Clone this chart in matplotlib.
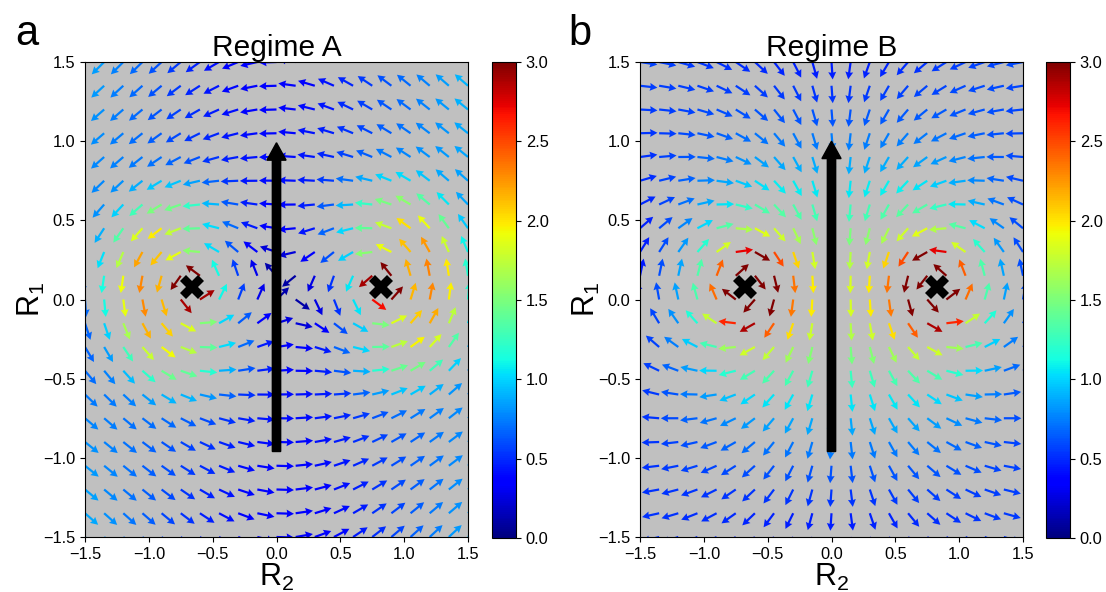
import numpy as np
import matplotlib.pyplot as plt

plt.rcParams['font.family'] = ['Liberation Sans', 'DejaVu Sans']
plt.rcParams['mathtext.fontset'] = 'custom'
plt.rcParams['mathtext.rm'] = 'Liberation Sans'
plt.rcParams['mathtext.it'] = 'Liberation Sans'

# ---------------- data ----------------
# grid of arrow tails (R2 along x, R1 along y)
r2_grid = np.linspace(-1.5, 1.5, 21)
r1_grid = np.linspace(-1.5, 1.5, 21)

# fixed points (black crosses)
fp_a_r2 = [-0.66, 0.82]
fp_a_r1 = [0.08, 0.08]
fp_b_r2 = [-0.68, 0.83]
fp_b_r1 = [0.08, 0.08]

# circulation of each fixed point (+ = counter-clockwise)
circ_a = [0.30, 0.30]
circ_b = [-0.66, 0.66]
# faster swirl on the outer side of the regime A crosses: amplitude, radius, width
ring_a = [1.35, 0.44, 0.24]

# slow outer circulation seen in regime A
outer_u_a = 0.28
outer_v_a = [0.08, 0.10]

# regime B: drift past the pair (down) and horizontal strain
drift_b = 0.08
strain_b = 0.15

# big black arrow (R2, R1 start -> R1 end)
big_arrow_a = (0.0, -0.96, 0.99)
big_arrow_b = (0.0, -0.96, 1.00)

titles = ['Regime A', 'Regime B']
letters = ['a', 'b']
cbar_ticks = [0.0, 0.5, 1.0, 1.5, 2.0, 2.5, 3.0]
axis_ticks = [-1.5, -1.0, -0.5, 0.0, 0.5, 1.0, 1.5]


def field(X, Y, cx, cy, circ, ring=None):
    U = np.zeros_like(X)
    V = np.zeros_like(X)
    for k, (x0, y0, g) in enumerate(zip(cx, cy, circ)):
        dx = X - x0
        dy = Y - y0
        r = np.hypot(dx, dy)
        s = g / r
        if ring is not None:
            # direction towards the other cross -> weaker swirl there
            ox = cx[1 - k] - x0
            cosang = dx * np.sign(ox) / r
            wgt = 0.5 * (1 - cosang)
            s = s + np.sign(g) * ring[0] * wgt * np.exp(-((r - ring[1]) / ring[2])**2)
        U += -s * dy / r
        V += s * dx / r
    return U, V


X, Y = np.meshgrid(r2_grid, r1_grid)

Ua, Va = field(X, Y, fp_a_r2, fp_a_r1, circ_a, ring_a)
Ua += -outer_u_a * X**2 * Y / (1 + 0.5 * Y**2)
Va += X * (outer_v_a[0] + outer_v_a[1] * Y**2)

Ub, Vb = field(X, Y, fp_b_r2, fp_b_r1, circ_b)
Ub += -strain_b * X * Y
Vb += -drift_b

fig = plt.figure(figsize=(11.06, 5.92), dpi=100)
W, H = 1106, 592

panels = [
    (85, 492, Ua, Va, fp_a_r2, fp_a_r1, big_arrow_a, 15),
    (640, 1046, Ub, Vb, fp_b_r2, fp_b_r1, big_arrow_b, 568),
]

for i, (x0, cbx, U, V, fx, fy, arr, lx) in enumerate(panels):
    ax = fig.add_axes([x0 / W, 55 / H, 383 / W, 475 / H])
    ax.set_facecolor('silver')
    M = np.hypot(U, V)
    q = ax.quiver(X, Y, U / M, V / M, M, cmap='jet', clim=(0, 3),
                  angles='uv', pivot='tail', units='inches',
                  scale_units='inches', scale=1 / 0.175, width=0.022,
                  headwidth=3.6, headlength=3.4, headaxislength=3.1)
    ax.plot(fx, fy, 'X', color='black', ms=17, mew=0, zorder=4)
    ax.arrow(arr[0], arr[1], 0, arr[2] - arr[1], width=0.065,
             head_width=0.15, head_length=0.11, length_includes_head=True,
             color='black', zorder=5)
    ax.set_xlim(-1.5, 1.5)
    ax.set_ylim(-1.5, 1.5)
    ax.set_xticks(axis_ticks)
    ax.set_yticks(axis_ticks)
    ax.tick_params(labelsize=11.8)
    ax.set_title(titles[i], fontsize=21.5, pad=3)
    ax.set_xlabel(r'R$_2$', fontsize=22, labelpad=0)
    ax.set_ylabel(r'R$_1$', fontsize=22, labelpad=-3)

    cax = fig.add_axes([cbx / W, 54 / H, 24 / W, 476 / H])
    cb = fig.colorbar(q, cax=cax)
    cb.set_ticks(cbar_ticks)
    cb.ax.tick_params(labelsize=11.8)

    fig.text(lx / W, 1 - 45 / H, letters[i], fontsize=30, va='baseline')

fig.savefig('out.png', dpi=100)
